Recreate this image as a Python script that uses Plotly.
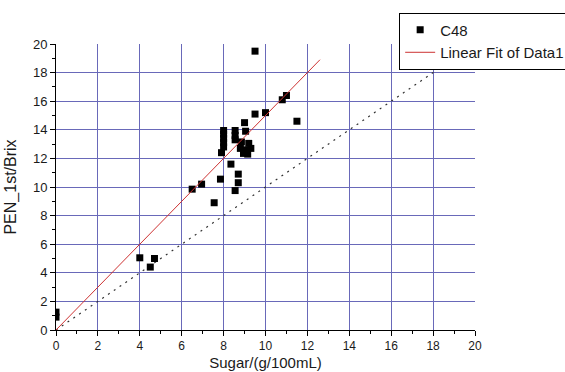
import plotly.graph_objects as go

# Data
sugar = [0, 0, 4.0, 4.7, 4.5, 6.5, 6.95, 7.55, 7.85, 7.9,
         8.0, 8.0, 8.0, 8.0, 8.0, 8.55, 8.55, 8.55,
         8.35, 8.7, 8.7, 8.55,
         8.85, 9.2, 8.8, 9.0, 9.3, 8.95, 9.05, 9.0, 9.15,
         9.5, 10.0, 9.5, 10.8, 11.0, 11.5]
pen = [0.9, 1.25, 5.05, 5.0, 4.4, 9.85, 10.2, 8.9, 10.55, 12.4,
       12.8, 13.1, 13.4, 13.7, 13.95, 13.3, 13.6, 13.95,
       11.6, 10.9, 10.3, 9.75,
       13.15, 13.05, 12.7, 12.6, 12.7, 12.35, 13.9, 14.5, 12.3,
       15.1, 15.2, 19.5, 16.1, 16.4, 14.6]

fit_x = [0, 12.6]
fit_y = [0, 18.9]

ident_x = [0, 20]
ident_y = [0, 20]

FONT = "Liberation Sans, Arial, sans-serif"
GRID = "rgb(105,105,185)"
TXT = "#1a1a1a"

fig = go.Figure()
fig.add_trace(go.Scatter(x=ident_x, y=ident_y, mode="lines",
                         line=dict(color="rgb(50,50,50)", width=1.2, dash="2px,5px"),
                         showlegend=False, hoverinfo="skip"))
fig.add_trace(go.Scatter(x=sugar, y=pen, mode="markers", name="C48",
                         marker=dict(symbol="square", size=7, color="black")))
fig.add_trace(go.Scatter(x=fit_x, y=fit_y, mode="lines", name="Linear Fit of Data1",
                         line=dict(color="rgb(205,50,50)", width=1)))

axis_common = dict(
    range=[0, 20], dtick=2, tick0=0, automargin=False,
    showgrid=True, gridcolor=GRID, gridwidth=1.2,
    zeroline=False, showline=True, linecolor="black", linewidth=1,
    ticks="outside", ticklen=5, tickcolor="black", tickwidth=1,
    minor=dict(dtick=1, ticklen=3, tickcolor="black", showgrid=False, ticks="outside"),
)

fig.update_xaxes(**axis_common, tickfont=dict(family=FONT, size=12, color=TXT),
                 title=dict(text="Sugar/(g/100mL)", font=dict(family=FONT, size=15, color=TXT), standoff=5))
fig.update_yaxes(**axis_common, tickfont=dict(family=FONT, size=13, color=TXT),
                 title=dict(text="PEN_1st/Brix", font=dict(family=FONT, size=16, color=TXT), standoff=12))

fig.update_layout(
    width=565, height=372,
    margin=dict(l=56, r=90, t=44, b=42, autoexpand=False),
    plot_bgcolor="white", paper_bgcolor="white",
    font=dict(family=FONT, color=TXT),
    legend=dict(x=0.819, y=1.11, xanchor="left", yanchor="top",
                bgcolor="white", bordercolor="black", borderwidth=1,
                font=dict(family=FONT, size=15, color=TXT),
                tracegroupgap=0, itemwidth=30),
)

fig.write_html("out.html")
